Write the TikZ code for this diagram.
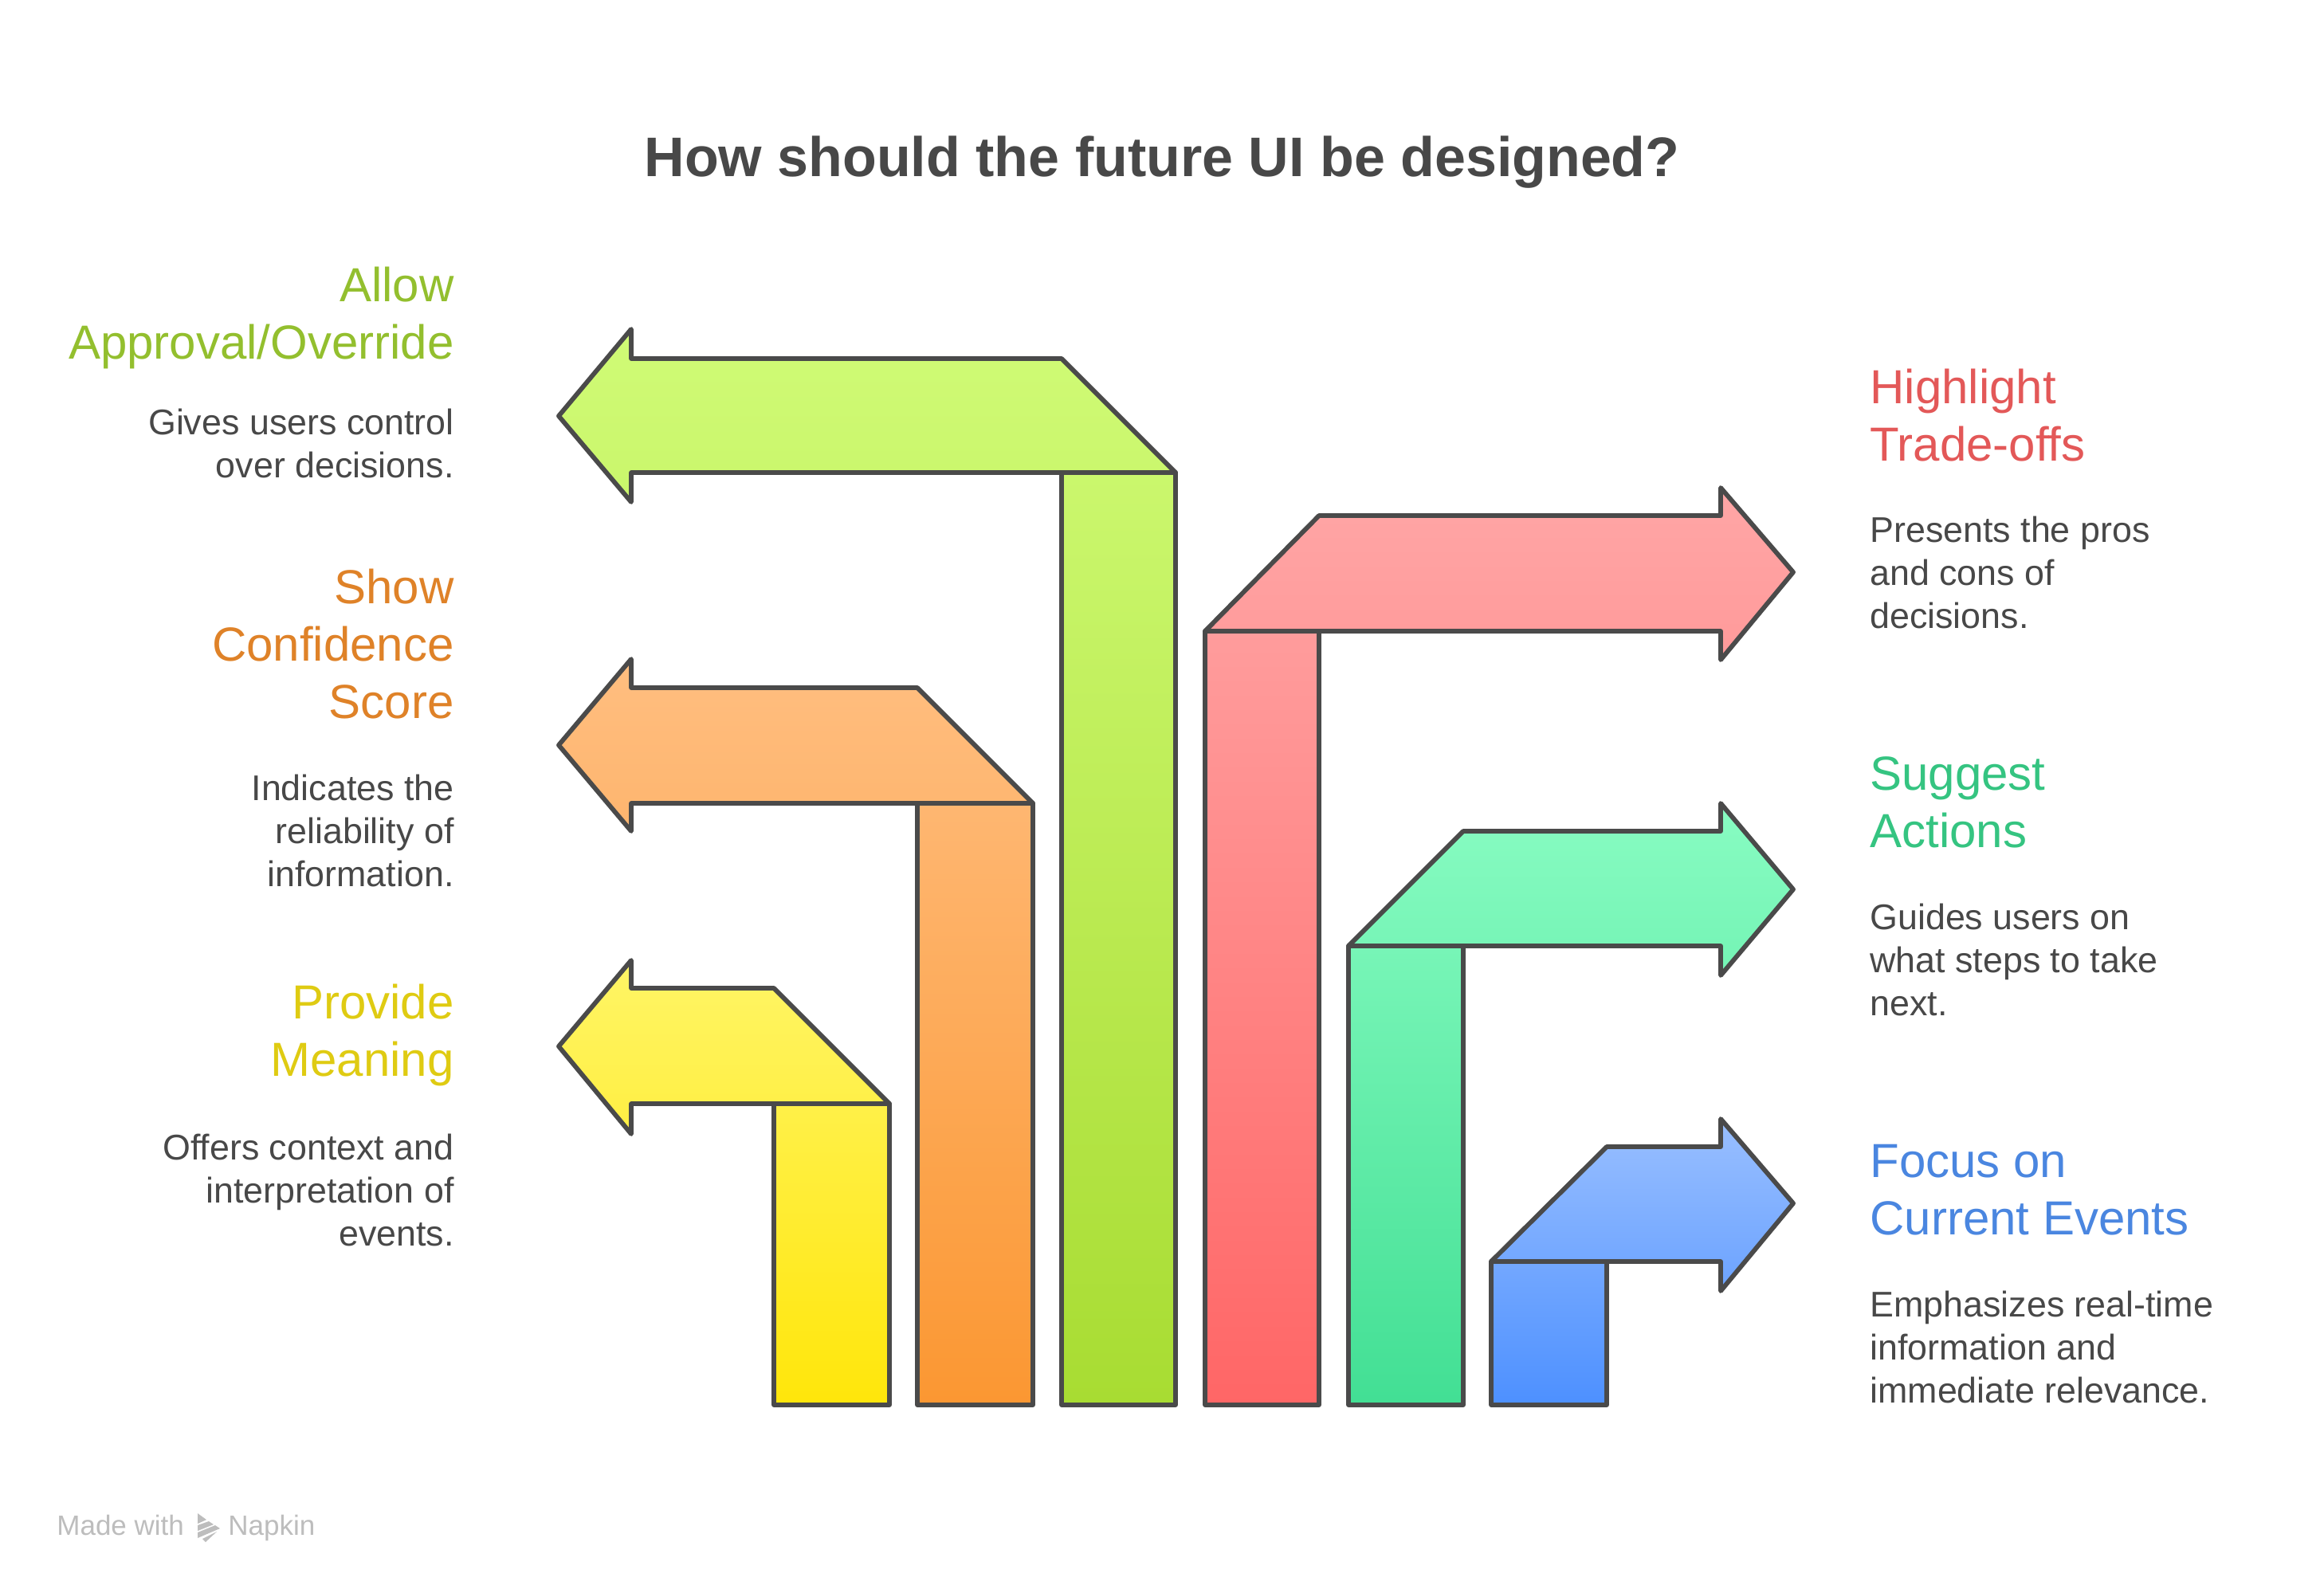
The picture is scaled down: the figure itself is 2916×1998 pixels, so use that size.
\documentclass[tikz,border=0pt]{standalone}
\usepackage{fontspec}
\setmainfont{Liberation Sans}
\definecolor{ink}{HTML}{4A4A4A}
\definecolor{txt}{HTML}{484848}
\definecolor{wm}{HTML}{BDBDBD}
\definecolor{limeT}{HTML}{D0FB76}\definecolor{limeB}{HTML}{A8DC32}\definecolor{limeH}{HTML}{93BF2E}
\definecolor{orT}{HTML}{FFBE80}\definecolor{orB}{HTML}{FB9732}\definecolor{orH}{HTML}{DF8228}
\definecolor{yeT}{HTML}{FFF566}\definecolor{yeB}{HTML}{FFE60A}\definecolor{yeH}{HTML}{DFCB12}
\definecolor{reT}{HTML}{FFA6A6}\definecolor{reB}{HTML}{FF6666}\definecolor{reH}{HTML}{E35858}
\definecolor{grT}{HTML}{88FCC2}\definecolor{grB}{HTML}{42DF94}\definecolor{grH}{HTML}{35C481}
\definecolor{blT}{HTML}{99BFFF}\definecolor{blB}{HTML}{4D90FF}\definecolor{blH}{HTML}{4A86E0}
\tikzset{
  x=0.5pt,y=-0.5pt,
  arrowshape/.style={draw=ink,line width=2.9pt,line join=round},
  seam/.style={draw=ink,line width=2.9pt,line cap=round},
  headL/.style={anchor=north east,inner sep=0pt,align=right,font=\fontsize{30}{36}\selectfont},
  headR/.style={anchor=north west,inner sep=0pt,align=left,font=\fontsize{30}{36}\selectfont},
  descL/.style={anchor=north east,inner sep=0pt,align=right,text=txt,font=\fontsize{22.4}{27}\selectfont},
  descR/.style={anchor=north west,inner sep=0pt,align=left,text=txt,font=\fontsize{22.4}{27}\selectfont},
}
\begin{document}
\begin{tikzpicture}
\useasboundingbox[fill=white] (0,0) rectangle (2916,1998);
\node[text=txt,font=\fontsize{35}{42}\bfseries\selectfont,anchor=center,inner sep=0pt] (title) at (1458,204) {How should the future UI be designed?};

% left arrows
\path[arrowshape,top color=limeT,bottom color=limeB] (1475,1763)--(1475,593)--(1332,450)--(792,450)--(792,413)--(701,522)--(792,630)--(792,593)--(1332,593)--(1332,1763)--cycle;
\path[seam] (1332,593)--(1475,593);
\path[arrowshape,top color=orT,bottom color=orB] (1296,1763)--(1296,1008)--(1151,863)--(792,863)--(792,827)--(701,935)--(792,1043)--(792,1008)--(1151,1008)--(1151,1763)--cycle;
\path[seam] (1151,1008)--(1296,1008);
\path[arrowshape,top color=yeT,bottom color=yeB] (1116,1763)--(1116,1385)--(971,1240)--(792,1240)--(792,1205)--(701,1313)--(792,1423)--(792,1385)--(971,1385)--(971,1763)--cycle;
\path[seam] (971,1385)--(1116,1385);
% right arrows
\path[arrowshape,top color=reT,bottom color=reB] (1512,1763)--(1512,792)--(1655,647)--(2159,647)--(2159,612)--(2250,718)--(2159,828)--(2159,792)--(1655,792)--(1655,1763)--cycle;
\path[seam] (1512,792)--(1655,792);
\path[arrowshape,top color=grT,bottom color=grB] (1692,1763)--(1692,1187)--(1836,1043)--(2159,1043)--(2159,1008)--(2250,1116)--(2159,1224)--(2159,1187)--(1836,1187)--(1836,1763)--cycle;
\path[seam] (1692,1187)--(1836,1187);
\path[arrowshape,top color=blT,bottom color=blB] (1871,1763)--(1871,1583)--(2016,1439)--(2159,1439)--(2159,1404)--(2250,1510)--(2159,1620)--(2159,1583)--(2016,1583)--(2016,1763)--cycle;
\path[seam] (1871,1583)--(2016,1583);

% left labels
\node[headL,text=limeH] (h1) at (570,335) {Allow\\Approval/Override};
\node[descL] (d1) at (570,513) {Gives users control\\over decisions.};
\node[headL,text=orH] (h2) at (570,714) {Show\\Confidence\\Score};
\node[descL] (d2) at (570,972) {Indicates the\\reliability of\\information.};
\node[headL,text=yeH] (h3) at (570,1235) {Provide\\Meaning};
\node[descL] (d3) at (570,1423) {Offers context and\\interpretation of\\events.};
% right labels
\node[headR,text=reH] (h4) at (2346,463) {Highlight\\Trade-offs};
\node[descR] (d4) at (2346,648) {Presents the pros\\and cons of\\decisions.};
\node[headR,text=grH] (h5) at (2346,949) {Suggest\\Actions};
\node[descR] (d5) at (2346,1134) {Guides users on\\what steps to take\\next.};
\node[headR,text=blH] (h6) at (2346,1436) {Focus on\\Current Events};
\node[descR] (d6) at (2346,1620) {Emphasizes real-time\\information and\\immediate relevance.};

% watermark
\node[anchor=base west,inner sep=0pt,text=wm,font=\fontsize{17.5}{20}\selectfont] (wm1) at (71,1926) {Made with};
\node[anchor=base west,inner sep=0pt,text=wm,font=\fontsize{17.5}{20}\selectfont] (wm2) at (286,1926) {Napkin};
\fill[wm] (248,1899)--(259,1907)--(248,1912)--cycle;
\fill[wm] (248,1914)--(262,1909)--(268,1913)--(248,1921)--cycle;
\fill[wm] (248,1923)--(270,1914)--(276,1918)--(248,1930)--cycle;
\fill[wm] (254,1931)--(272,1922)--(258,1935)--cycle;
\end{tikzpicture}
\end{document}
